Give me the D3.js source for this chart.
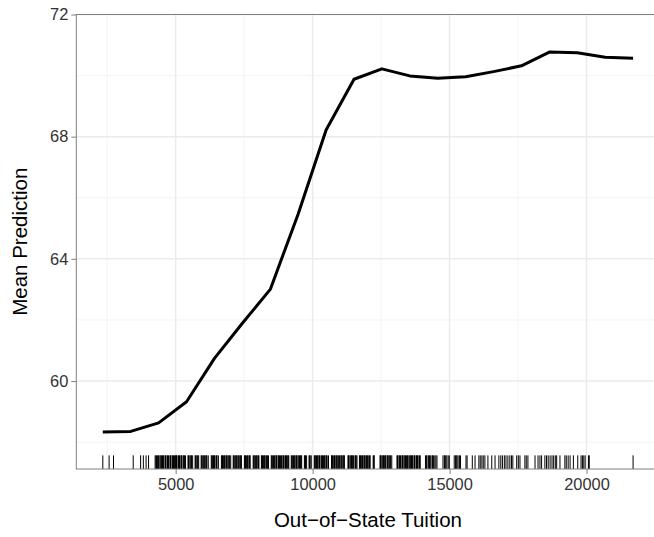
<!DOCTYPE html>
<html><head><meta charset="utf-8">
<script src="https://cdn.jsdelivr.net/npm/d3@7"></script>
<style>body{margin:0;background:#fff}svg{display:block}</style>
</head><body>
<svg id="c" width="654" height="537"></svg>
<script>
// Partial dependence grid (Out-of-State Tuition) and mean predictions
const gridX = [2340, 3359, 4378, 5397, 6416, 7435, 8454, 9473, 10492, 11511,
               12529, 13548, 14567, 15586, 16605, 17624, 18643, 19662, 20681, 21700];
const meanPred = [58.33, 58.35, 58.63, 59.32, 60.74, 61.89, 63.00, 65.47, 68.22, 69.88,
                  70.22, 69.99, 69.91, 69.96, 70.13, 70.32, 70.77, 70.75, 70.60, 70.57];
// Observed tuition values (rug)
const rugX = [2340, 2570, 2730, 3450, 3720, 3820, 3920, 4010,
  4250, 4280, 4300, 4340, 4370, 4390, 4430, 4460, 4480, 4520, 4540, 4560, 4610, 4630, 4650, 4700, 4720, 4740, 4790, 4810, 4830, 4880, 4900, 4920, 4960, 4990,
  5010, 5030, 5050, 5100, 5120, 5140, 5190, 5210, 5230, 5280, 5300, 5320, 5360,
  5450, 5470, 5490, 5530, 5560, 5580, 5620, 5710, 5730, 5750, 5790, 5810, 5840, 5930, 5950, 5970, 6010, 6040, 6060, 6100, 6120, 6140, 6190,
  6300, 6320, 6340, 6380, 6400, 6420, 6470, 6490, 6510, 6560, 6670, 6690, 6710, 6750, 6780, 6800, 6840, 6860, 6880, 6920, 6950, 6970, 7010,
  7100, 7120, 7140, 7190, 7210, 7230, 7270, 7300, 7320, 7360, 7380, 7400, 7510, 7530, 7550, 7590, 7620, 7640, 7680, 7700, 7720,
  7830, 7850, 7870, 7910, 7940, 7960, 8000, 8020, 8040, 8130, 8150, 8170, 8210, 8240, 8260, 8300, 8320, 8350, 8390,
  8490, 8510, 8530, 8570, 8600, 8620, 8660, 8680, 8700, 8750, 8770, 8790, 8830, 8860, 8880, 8920, 8940, 8960, 9010, 9030, 9050, 9090, 9110, 9130,
  9220, 9240, 9260, 9300, 9330, 9350, 9390, 9410, 9430, 9470, 9500, 9520, 9560, 9580, 9600, 9700, 9720, 9740, 9780, 9870, 9890, 9910, 9950,
  10060, 10080, 10100, 10140, 10170, 10190, 10230, 10250, 10270, 10320, 10340, 10360, 10400, 10430, 10450, 10490, 10510, 10530, 10580,
  10690, 10710, 10730, 10770, 10800, 10820, 10860, 10880, 10900, 10950, 10970, 10990, 11030, 11060, 11080, 11120, 11140, 11160,
  11290, 11310, 11330, 11370, 11400, 11420, 11460, 11480, 11500, 11550, 11570, 11590, 11620,
  11710, 11730, 11750, 11790, 11820, 11840, 11880, 11900, 11920, 11970, 11990, 12010, 12050, 12080, 12100, 12210, 12230, 12250,
  12460, 12480, 12500, 12540, 12570, 12590, 12630, 12650, 12670, 12720, 12740, 12760, 12800, 12830, 12850, 12890,
  13080, 13100, 13120, 13170, 13190, 13210, 13260, 13280, 13300, 13340, 13370, 13390, 13430, 13460, 13480, 13520, 13550, 13570, 13610, 13630, 13650,
  13700, 13720, 13740, 13790, 13810, 13830, 13880, 13900, 13930,
  14120, 14150, 14170, 14220, 14240, 14270, 14310, 14360, 14380, 14410, 14460, 14500, 14540,
  14760, 14810, 14830, 14860, 14900, 14950, 14990, 15170, 15220, 15240, 15270, 15310, 15360, 15400, 15600, 15640,
  15830, 15930, 16070, 16120, 16180, 16230, 16290, 16400, 16540, 16660,
  16800, 16870, 16930, 17000, 17060, 17130, 17200, 17260, 17310, 17450, 17510, 17570,
  17750, 17800, 17860, 18120, 18230, 18300, 18360, 18480, 18540, 18600, 18670, 18740, 18800, 18860, 18910,
  19030, 19210, 19260, 19330, 19400, 19520, 19680, 19800, 19850, 19900, 19950, 20070, 20100, 21700];
const xTicks = [5000, 10000, 15000, 20000];
const xMinor = [2500, 7500, 12500, 17500, 22500];
const yTicks = [60, 64, 68, 72];
const yMinor = [58, 62, 66, 70];
const xTitle = "Out\u2212of\u2212State Tuition";
const yTitle = "Mean Prediction";

const P = {left: 76.3, right: 659.6, top: 14.5, bottom: 469};
const FONT = "'Liberation Sans', Arial, Helvetica, sans-serif";
const svg = d3.select("#c");
const x = d3.scaleLinear().domain([1372, 22668]).range([P.left, P.right]);
const y = d3.scaleLinear().domain([57.12, 72]).range([P.bottom, P.top]);

const g = svg.append("g");
// minor grid
g.selectAll(".mx").data(xMinor).join("line")
  .attr("x1", d => x(d)).attr("x2", d => x(d)).attr("y1", P.top).attr("y2", P.bottom)
  .attr("stroke", "#f0f0f0").attr("stroke-width", 0.8);
g.selectAll(".my").data(yMinor).join("line")
  .attr("y1", d => y(d)).attr("y2", d => y(d)).attr("x1", P.left).attr("x2", P.right)
  .attr("stroke", "#f0f0f0").attr("stroke-width", 0.8);
// major grid
g.selectAll(".gx").data(xTicks).join("line")
  .attr("x1", d => x(d)).attr("x2", d => x(d)).attr("y1", P.top).attr("y2", P.bottom)
  .attr("stroke", "#ebebeb").attr("stroke-width", 1.5);
g.selectAll(".gy").data(yTicks).join("line")
  .attr("y1", d => y(d)).attr("y2", d => y(d)).attr("x1", P.left).attr("x2", P.right)
  .attr("stroke", "#ebebeb").attr("stroke-width", 1.5);

// rug
const rugLen = (P.bottom - P.top) * 0.03;
g.selectAll(".rug").data(rugX).join("line")
  .attr("x1", d => x(d)).attr("x2", d => x(d))
  .attr("y1", P.bottom).attr("y2", P.bottom - rugLen)
  .attr("stroke", "#000").attr("stroke-width", 1);

// line
const line = d3.line().x((d, i) => x(gridX[i])).y(d => y(d));
g.append("path").datum(meanPred).attr("d", line)
  .attr("fill", "none").attr("stroke", "#000").attr("stroke-width", 3)
  .attr("stroke-linejoin", "round");

// border
g.append("rect").attr("x", P.left).attr("y", P.top)
  .attr("width", P.right - P.left).attr("height", P.bottom - P.top)
  .attr("fill", "none").attr("stroke", "#808080").attr("stroke-width", 1);

// axes
const xAxis = d3.axisBottom(x).tickValues(xTicks).tickSize(5).tickPadding(4).tickFormat(d3.format("d"));
const ax = svg.append("g").attr("transform", `translate(0,${P.bottom})`).call(xAxis);
ax.select(".domain").remove();
ax.selectAll(".tick line").attr("stroke", "#808080");
ax.selectAll(".tick text").attr("fill", "#333").style("font-family", FONT).style("font-size", "16.4px");

const yAxis = d3.axisLeft(y).tickValues(yTicks).tickSize(5).tickPadding(3).tickFormat(d3.format("d"));
const ay = svg.append("g").attr("transform", `translate(${P.left},0)`).call(yAxis);
ay.select(".domain").remove();
ay.selectAll(".tick line").attr("stroke", "#808080");
ay.selectAll(".tick text").attr("fill", "#333").style("font-family", FONT).style("font-size", "16.4px");

// titles
svg.append("text").attr("x", (P.left + P.right) / 2).attr("y", 527)
  .attr("text-anchor", "middle").style("font-family", FONT).style("font-size", "20.5px")
  .attr("fill", "#000").text(xTitle);
svg.append("text").attr("transform", `translate(27,${(P.top + P.bottom) / 2}) rotate(-90)`)
  .attr("text-anchor", "middle").style("font-family", FONT).style("font-size", "20.5px")
  .attr("fill", "#000").text(yTitle);
</script>
</body></html>
